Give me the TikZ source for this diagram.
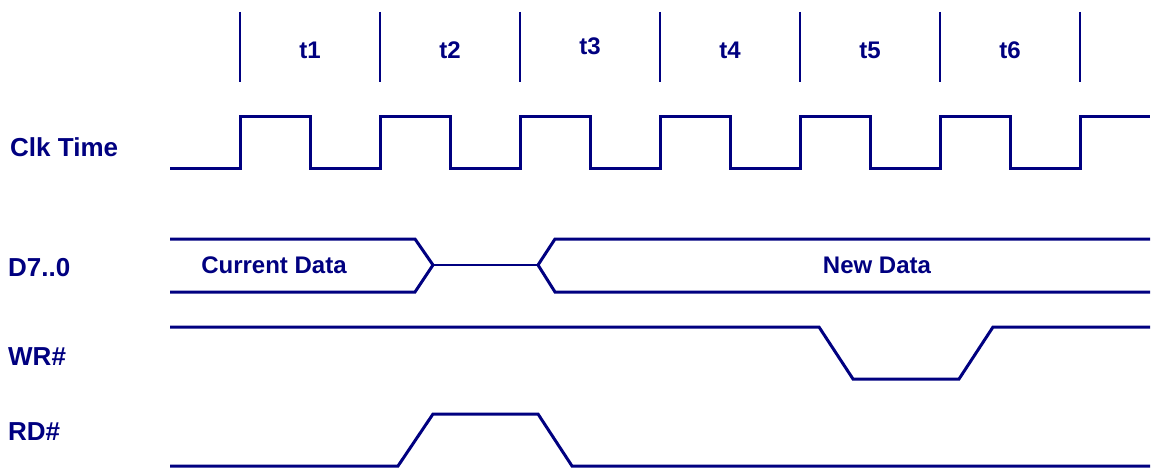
\documentclass[tikz,border=0pt]{standalone}
\usepackage{fontspec}
\setmainfont{Liberation Sans}
\usetikzlibrary{positioning}
\definecolor{sigblue}{HTML}{000080}
\tikzset{
  wave/.style={draw=sigblue,line width=3pt,line join=miter},
  thinwave/.style={wave,line width=2pt},
  slot/.style={draw=sigblue,line width=2.4pt},
  siglab/.style={font=\fontsize{26}{30}\selectfont\bfseries,text=sigblue,anchor=west,inner sep=0},
  phase/.style={font=\fontsize{24}{28}\selectfont\bfseries,text=sigblue,inner sep=0},
}
\begin{document}
\begin{tikzpicture}[x=1pt,y=-1pt]
  \useasboundingbox (0,0) rectangle (1153,468);
  % slot markers and their names
  \foreach \x in {240,380,...,1080} { \draw[slot] (\x,12) -- (\x,82); }
  \foreach \i/\y in {1/50,2/50,3/46,4/50,5/50,6/50} {
    \node[phase] (t\i) at ({170+140*\i},\y) {t\i};
  }
  % signal names
  \node[siglab] (clk) at (10,147) {Clk Time};
  \node[siglab] (data) at (8,268) {D7..0};
  \node[siglab] (wr) at (8,357) {WR\#};
  \node[siglab] (rd) at (8,432) {RD\#};
  % clock
  \draw[wave] (170,168)
    \foreach \x in {240,380,...,940} { -- (\x,168) -- (\x,117) -- ({\x+70},117) -- ({\x+70},168) }
    -- (1080,168) -- (1080,117) -- (1150,117);
  % data bus
  \draw[wave] (170,239) -- (415,239) -- (433,265) -- (415,292) -- (170,292);
  \draw[thinwave] (433,265) -- (538,265);
  \draw[wave] (1150,239) -- (555,239) -- (538,265) -- (555,292) -- (1150,292);
  \node[phase] (cur) at (274,265) {Current Data};
  \node[phase] (new) at (877,265) {New Data};
  % write strobe
  \draw[wave] (170,327) -- (819,327) -- (853,379) -- (959,379) -- (993,327) -- (1150,327);
  % read strobe
  \draw[wave] (170,466) -- (398,466) -- (433,414) -- (538,414) -- (572,466) -- (1150,466);
\end{tikzpicture}
\end{document}
